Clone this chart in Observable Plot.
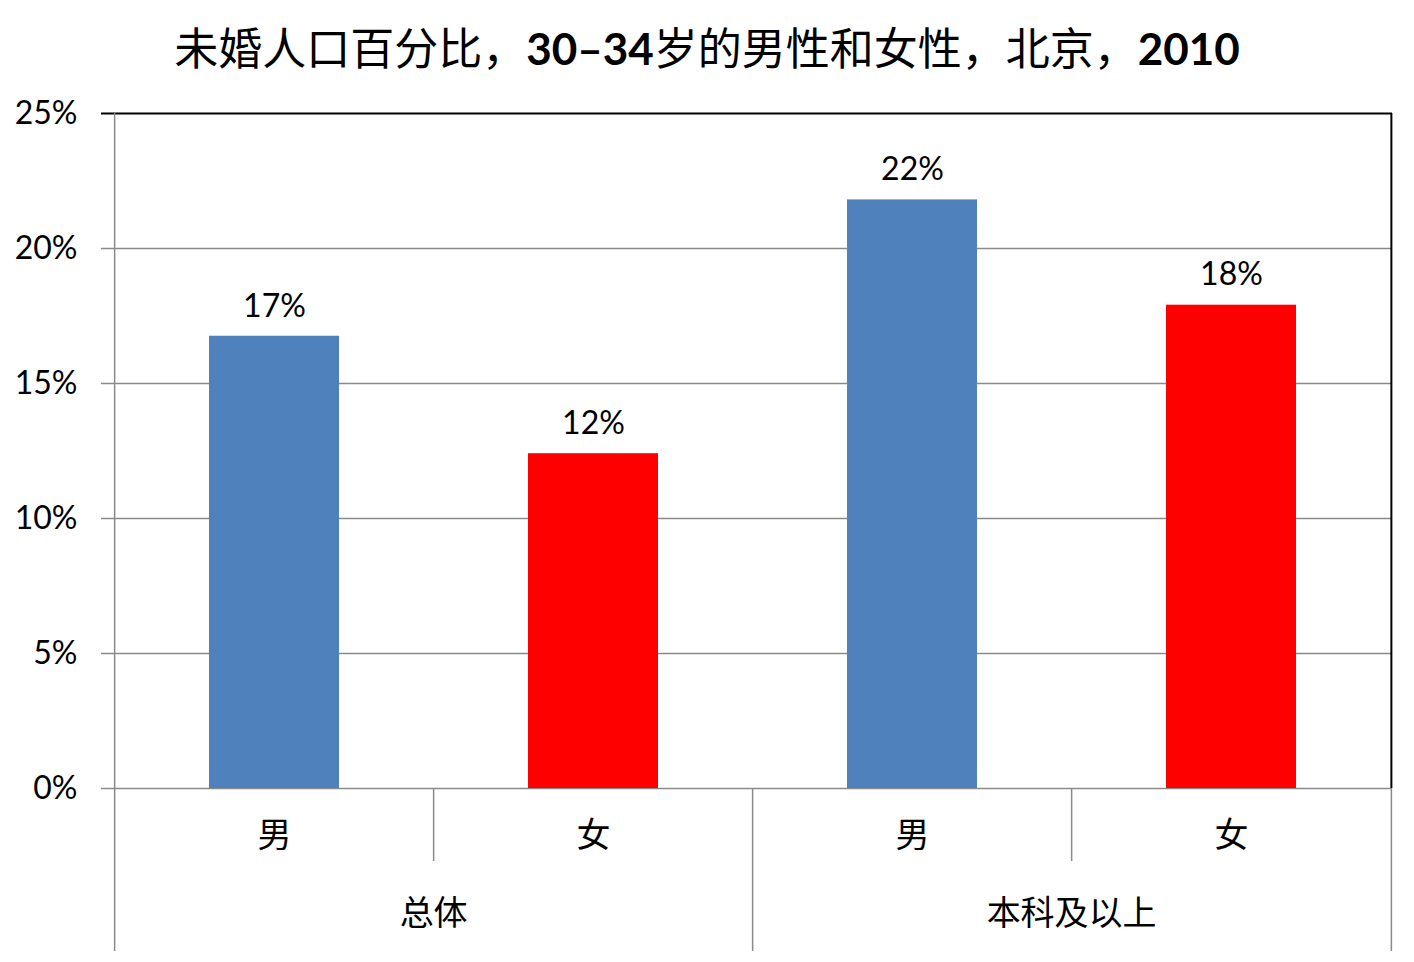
<!DOCTYPE html>
<html>
<head>
<meta charset="utf-8">
<script src="https://cdn.jsdelivr.net/npm/d3@7"></script>
<script src="https://cdn.jsdelivr.net/npm/@observablehq/plot@0.6"></script>
<style>
  html, body { margin: 0; padding: 0; background: #fff; }
  #title { height: 60px; width: 1414px; box-sizing: border-box; padding-top: 21px; text-align: center;
    font-family: Lato, "Noto Sans CJK SC", sans-serif; font-size: 44px; font-weight: 400; color: #000; line-height: 54px; white-space: nowrap; overflow: visible; position: relative; z-index: 2; }
  #title b { font-weight: 700; }
  #chart svg { display: block; }
</style>
</head>
<body>
<div id="title">未婚人口百分比，<b>30–34</b>岁的男性和女性，北京，<b>2010</b></div>
<div id="chart"></div>
<script>
const groups = ["总体", "总体", "本科及以上", "本科及以上"];
const sexes = ["男", "女", "男", "女"];
const values = [16.75, 12.4, 21.8, 17.9];
const colors = ["#4F81BD", "#FF0000", "#4F81BD", "#FF0000"];
const yTicks = [0, 5, 10, 15, 20, 25];
const groupNames = ["总体", "本科及以上"];

const data = values.map((v, i) => ({key: groups[i] + "|" + sexes[i], group: groups[i], sex: sexes[i], value: v, color: colors[i]}));
const keys = data.map(d => d.key);

const W = 1414, H = 902;
const mL = 113, mR = 22, mT = 53, mB = 174;
const plotW = W - mL - mR, plotH = H - mT - mB;
const half = plotW / keys.length / 2;
const font = "Lato, 'Noto Sans CJK SC', sans-serif";
const gray = "#8a8a8a";

const chart = Plot.plot({
  width: W, height: H,
  marginLeft: mL, marginRight: mR, marginTop: mT, marginBottom: mB,
  style: {fontFamily: font, background: "transparent", color: "#000"},
  x: {domain: keys, paddingInner: 0.594, paddingOuter: 0.297, axis: null},
  y: {domain: [0, 25], axis: null},
  marks: [
    Plot.ruleY(yTicks.filter(t => t < 25), {y: d => d, stroke: gray, strokeWidth: 1.5, insetLeft: -12}),
    Plot.ruleY([25], {stroke: "#000", strokeWidth: 2, insetLeft: -12}),
    Plot.text(yTicks, {y: d => d, text: d => d + "%", frameAnchor: "left", textAnchor: "end", dx: -36, fontSize: 32, fill: "#000"}),
    Plot.barY(data, {x: "key", y: "value", fill: "color"}),
    Plot.text(data, {x: "key", y: "value", text: d => Math.round(d.value) + "%", dy: -30, fontSize: 32, fill: "#000"}),
    Plot.ruleX([keys[0]], {dx: -half, stroke: gray, strokeWidth: 1.5, insetBottom: -163}),
    Plot.ruleX([keys[3]], {dx: half, stroke: "#000", strokeWidth: 2}),
    Plot.ruleX([keys[3]], {dx: half, stroke: gray, strokeWidth: 1.5, insetTop: plotH, insetBottom: -163}),
    Plot.ruleX([keys[1], keys[3]], {dx: -half, stroke: gray, strokeWidth: 1.5, insetTop: plotH, insetBottom: -73}),
    Plot.ruleX([keys[2]], {dx: -half, stroke: gray, strokeWidth: 1.5, insetTop: plotH, insetBottom: -163}),
    Plot.text(data, {x: "key", text: "sex", frameAnchor: "bottom", dy: 48, fontSize: 34, fill: "#000", lineAnchor: "middle"}),
    Plot.text(groupNames, {x: g => g + "|女", text: d => d, frameAnchor: "bottom", dx: -half, dy: 126, fontSize: 34, fill: "#000", lineAnchor: "middle"})
  ]
});
document.getElementById("chart").appendChild(chart);
</script>
</body>
</html>
